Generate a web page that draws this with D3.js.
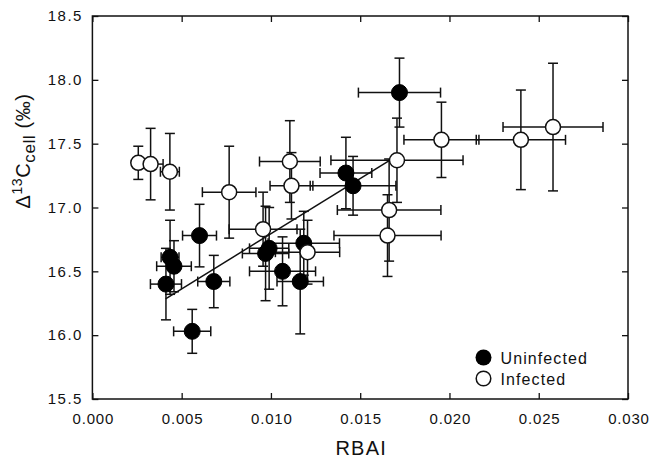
<!DOCTYPE html>
<html>
<head>
<meta charset="utf8">
<title>RBAI vs cell</title>
<style>
body { margin:0; background:white; }
svg text { font-family: "Liberation Sans", Arial, sans-serif; fill:#111; }
</style>
<script src="https://d3js.org/d3.v7.min.js"></script>
</head>
<body>
<div id="chart"></div>
<script>
var width = 650;
var height = 460;

// uninfected (filled)
var uninfX    = [0.0172, 0.0142, 0.0146, 0.0060, 0.00435, 0.00457, 0.00412, 0.0068, 0.00559, 0.0097, 0.0099, 0.01065, 0.01184, 0.01164];
var uninfY    = [17.90, 17.27, 17.17, 16.78, 16.61, 16.54, 16.40, 16.42, 16.03, 16.64, 16.68, 16.50, 16.72, 16.42];
var uninfXErr = [0.0023, 0.00145, 0.0024, 0.00095, 0.0005, 0.00097, 0.00087, 0.0009, 0.00104, 0.0013, 0.0011, 0.00185, 0.0020, 0.0013];
var uninfYErr = [0.27, 0.28, 0.23, 0.245, 0.29, 0.20, 0.28, 0.205, 0.172, 0.37, 0.32, 0.27, 0.25, 0.41];

// infected (open)
var infX    = [0.00257, 0.00326, 0.00434, 0.00766, 0.01106, 0.01115, 0.00956, 0.01205, 0.01706, 0.01955, 0.0240, 0.0258, 0.01662, 0.01653];
var infY    = [17.35, 17.34, 17.28, 17.12, 17.36, 17.17, 16.83, 16.65, 17.37, 17.53, 17.53, 17.63, 16.98, 16.78];
var infXErr = [0.0003, 0.0007, 0.00053, 0.0015, 0.0017, 0.0012, 0.0019, 0.0018, 0.0037, 0.0021, 0.0025, 0.0028, 0.0029, 0.0030];
var infYErr = [0.13, 0.28, 0.30, 0.36, 0.32, 0.26, 0.29, 0.25, 0.33, 0.295, 0.39, 0.50, 0.40, 0.32];

// regression line ends
var fitX = [0.0041, 0.0169];
var fitY = [16.285, 17.39];

var xTicks = [0, 0.005, 0.010, 0.015, 0.020, 0.025, 0.030];
var yTicks = [15.5, 16.0, 16.5, 17.0, 17.5, 18.0, 18.5];

var mLeft = 92.4, mRight = 628, mTop = 16, mBottom = 399;
var r = 7.5; // 점 반지름
var cap = 5; // 에러바 끝 길이(반)

var svg = d3.select("#chart").append("svg")
    .attr("width", width)
    .attr("height", height);

var x = d3.scaleLinear().domain([0, 0.030]).range([mLeft, mRight]);
var y = d3.scaleLinear().domain([15.5, 18.5]).range([mBottom, mTop]);

// 축 (눈금은 안쪽으로)
var gx = svg.append("g")
    .attr("transform", "translate(0," + mBottom + ")")
    .call(d3.axisBottom(x).tickValues(xTicks).tickSize(-6).tickPadding(14).tickFormat(d3.format(".3f")))
    .call(function(g){ g.select(".domain").remove(); });
svg.append("g")
    .attr("transform", "translate(0," + mTop + ")")
    .call(d3.axisTop(x).tickValues(xTicks).tickSize(-6).tickFormat(""))
    .call(function(g){ g.select(".domain").remove(); });
var gy = svg.append("g")
    .attr("transform", "translate(" + mLeft + ",0)")
    .call(d3.axisLeft(y).tickValues(yTicks).tickSize(-6).tickPadding(9.5).tickFormat(d3.format(".1f")))
    .call(function(g){ g.select(".domain").remove(); });
svg.append("g")
    .attr("transform", "translate(" + mRight + ",0)")
    .call(d3.axisRight(y).tickValues(yTicks).tickSize(-6).tickFormat(""))
    .call(function(g){ g.select(".domain").remove(); });

svg.selectAll(".tick line").attr("stroke", "#111").attr("stroke-width", 1.3);
svg.selectAll(".tick text").attr("font-size", 15).attr("fill", "#111")
    .style("font-family", "'Liberation Sans', Arial, sans-serif");
gx.selectAll(".tick text").attr("letter-spacing", 0.8).attr("dx", 0.4);
gy.selectAll(".tick text").attr("letter-spacing", 1.5);

svg.append("rect")
    .attr("x", mLeft).attr("y", mTop)
    .attr("width", mRight - mLeft).attr("height", mBottom - mTop)
    .attr("fill", "none").attr("stroke", "#111").attr("stroke-width", 1.5);

function errorBars(xs, ys, xe, ye) {
  var g = svg.append("g").attr("stroke", "#111").attr("stroke-width", 1.5).attr("fill", "none");
  for (var i = 0; i < xs.length; i++) {
    var cx = x(xs[i]), cy = y(ys[i]);
    var x1 = x(xs[i] - xe[i]), x2 = x(xs[i] + xe[i]);
    var y1 = y(ys[i] + ye[i]), y2 = y(ys[i] - ye[i]);
    g.append("line").attr("x1", x1).attr("x2", x2).attr("y1", cy).attr("y2", cy);
    g.append("line").attr("x1", x1).attr("x2", x1).attr("y1", cy - cap).attr("y2", cy + cap);
    g.append("line").attr("x1", x2).attr("x2", x2).attr("y1", cy - cap).attr("y2", cy + cap);
    g.append("line").attr("x1", cx).attr("x2", cx).attr("y1", y1).attr("y2", y2);
    g.append("line").attr("x1", cx - cap).attr("x2", cx + cap).attr("y1", y1).attr("y2", y1);
    g.append("line").attr("x1", cx - cap).attr("x2", cx + cap).attr("y1", y2).attr("y2", y2);
  }
}

errorBars(uninfX, uninfY, uninfXErr, uninfYErr);
errorBars(infX, infY, infXErr, infYErr);

svg.append("line")
    .attr("x1", x(fitX[0])).attr("y1", y(fitY[0]))
    .attr("x2", x(fitX[1])).attr("y2", y(fitY[1]))
    .attr("stroke", "#111").attr("stroke-width", 1.5);

svg.append("g").selectAll("circle").data(uninfX).enter().append("circle")
    .attr("cx", function(d){ return x(d); })
    .attr("cy", function(d, i){ return y(uninfY[i]); })
    .attr("r", r + 0.5)
    .attr("fill", "#000").attr("stroke", "#000").attr("stroke-width", 1);

svg.append("g").selectAll("circle").data(infX).enter().append("circle")
    .attr("cx", function(d){ return x(d); })
    .attr("cy", function(d, i){ return y(infY[i]); })
    .attr("r", r)
    .attr("fill", "white").attr("stroke", "#111").attr("stroke-width", 1.5);

// 범례
svg.append("circle").attr("cx", 483.5).attr("cy", 357.5).attr("r", 8).attr("fill", "#000");
svg.append("circle").attr("cx", 483.5).attr("cy", 378.5).attr("r", 7.3).attr("fill", "white")
    .attr("stroke", "#111").attr("stroke-width", 1.5);
svg.append("text").attr("x", 500.5).attr("y", 364).attr("font-size", 16).attr("letter-spacing", 1.1).text("Uninfected");
svg.append("text").attr("x", 500.5).attr("y", 385).attr("font-size", 16).attr("letter-spacing", 1.1).text("Infected");

// 축 제목
svg.append("text")
    .attr("x", (mLeft + mRight) / 2 + 1).attr("y", 455)
    .attr("text-anchor", "middle").attr("font-size", 20).attr("letter-spacing", 1.2).text("RBAI");

var yt = svg.append("text")
    .attr("transform", "translate(30,151) rotate(-90)")
    .attr("text-anchor", "middle").attr("font-size", 20).attr("letter-spacing", 0.6);
yt.append("tspan").text("\u0394");
yt.append("tspan").attr("dy", -8).attr("font-size", 14).text("13");
yt.append("tspan").attr("dy", 8).text("C");
yt.append("tspan").attr("dy", 5).attr("font-size", 17).text("cell");
yt.append("tspan").attr("dy", -5).text(" (\u2030)");
</script>
</body>
</html>
